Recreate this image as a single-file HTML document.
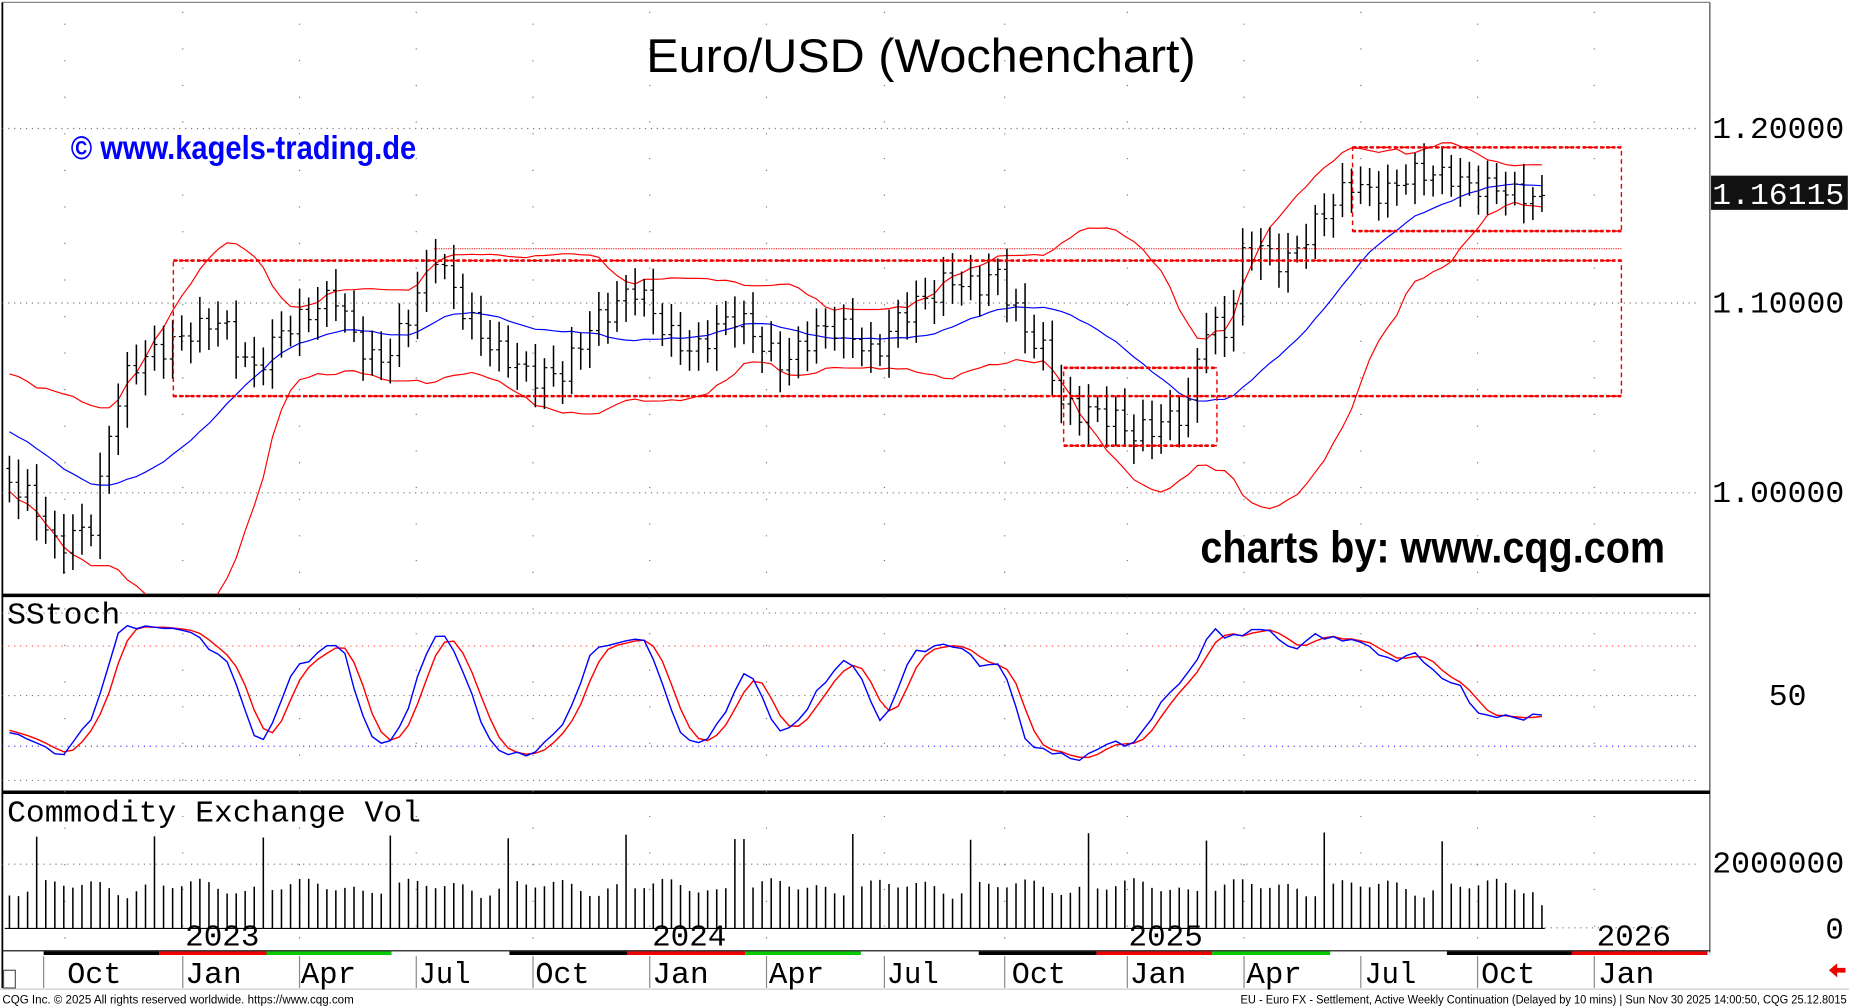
<!DOCTYPE html>
<html><head><meta charset="utf-8">
<style>
html,body{margin:0;padding:0;background:#fff;overflow:hidden}
svg{display:block}
text{font-family:"Liberation Sans",sans-serif}
.m{font-family:"Liberation Mono",monospace}
</style></head>
<body>
<svg id="s" width="1849" height="1008" viewBox="0 0 1568 855" preserveAspectRatio="none" xmlns="http://www.w3.org/2000/svg">
<defs><clipPath id="cp"><rect x="2" y="3" width="1448" height="501"/></clipPath>
<clipPath id="cs"><rect x="2" y="507" width="1448" height="164"/></clipPath></defs>
<rect width="1568" height="855" fill="#fff"/>
<line x1="2" y1="2" x2="1450" y2="2" stroke="#888" stroke-width="1"/>
<line x1="2" y1="2" x2="2" y2="838" stroke="#000" stroke-width="1.5"/>
<line x1="1450" y1="2" x2="1450" y2="808" stroke="#444" stroke-width="1"/>
<line x1="2" y1="505" x2="1450" y2="505" stroke="#000" stroke-width="3"/>
<line x1="2" y1="672" x2="1450" y2="672" stroke="#000" stroke-width="3"/>
<g stroke="#777" stroke-width="1" stroke-dasharray="1,4">
<line x1="2" y1="109" x2="1440" y2="109"/><line x1="2" y1="257" x2="1440" y2="257"/><line x1="2" y1="418" x2="1440" y2="418"/>
<line x1="2" y1="548" x2="1440" y2="548" stroke="#f44"/>
<line x1="2" y1="590" x2="1440" y2="590"/>
<line x1="2" y1="633" x2="1440" y2="633" stroke="#44f"/>
<line x1="2" y1="520" x2="1440" y2="520"/><line x1="2" y1="662" x2="1440" y2="662"/>
<line x1="2" y1="733" x2="1440" y2="733"/><line x1="1310" y1="787" x2="1420" y2="787"/>
</g>
<g stroke="#777" stroke-width="1" stroke-dasharray="1,30">
<line x1="155" y1="10" x2="155" y2="805"/><line x1="353" y1="10" x2="353" y2="805"/><line x1="551" y1="10" x2="551" y2="805"/><line x1="750" y1="10" x2="750" y2="805"/><line x1="956" y1="10" x2="956" y2="805"/><line x1="1154" y1="10" x2="1154" y2="805"/><line x1="1352" y1="10" x2="1352" y2="805"/>
<line x1="254" y1="20" x2="254" y2="805"/><line x1="452" y1="20" x2="452" y2="805"/><line x1="650" y1="20" x2="650" y2="805"/><line x1="852" y1="20" x2="852" y2="805"/><line x1="1055" y1="20" x2="1055" y2="805"/><line x1="1253" y1="20" x2="1253" y2="805"/><line x1="55" y1="20" x2="55" y2="805"/>
</g>
<g id="dyn"></g>
<g fill="none" stroke="#e00" stroke-width="1.2" stroke-dasharray="4,3">
<rect x="147" y="221" width="1228" height="115"/>
<rect x="902" y="312" width="130" height="66"/>
<rect x="1147" y="125" width="228" height="71"/>
</g>
<g stroke="#e00" stroke-width="2.2" stroke-dasharray="3,2">
<line x1="147" y1="221" x2="1375" y2="221"/><line x1="147" y1="336" x2="1375" y2="336"/>
<line x1="902" y1="312" x2="1032" y2="312"/><line x1="902" y1="378" x2="1032" y2="378"/>
<line x1="1147" y1="125" x2="1375" y2="125"/><line x1="1147" y1="196" x2="1375" y2="196"/>
</g>
<line x1="368" y1="211" x2="1375" y2="211" stroke="#e00" stroke-width="0.8" stroke-dasharray="1,1"/>
<text x="781" y="61" font-size="40" text-anchor="middle" textLength="466" lengthAdjust="spacingAndGlyphs">Euro/USD (Wochenchart)</text>
<text x="60" y="135" font-size="28" font-weight="bold" fill="#00f" textLength="293" lengthAdjust="spacingAndGlyphs">© www.kagels-trading.de</text>
<text x="1018" y="477" font-size="38" font-weight="bold" textLength="394" lengthAdjust="spacingAndGlyphs">charts by: www.cqg.com</text>
<text class="m" x="1452" y="117" font-size="26" textLength="112" lengthAdjust="spacingAndGlyphs">1.20000</text>
<text class="m" x="1452" y="265" font-size="26" textLength="112" lengthAdjust="spacingAndGlyphs">1.10000</text>
<text class="m" x="1452" y="426" font-size="26" textLength="112" lengthAdjust="spacingAndGlyphs">1.00000</text>
<rect x="1451" y="149" width="116" height="29" fill="#111"/>
<text class="m" x="1452" y="173" font-size="26" fill="#fff" textLength="112" lengthAdjust="spacingAndGlyphs">1.16115</text>
<text class="m" x="1500" y="598" font-size="26" textLength="32" lengthAdjust="spacingAndGlyphs">50</text>
<text class="m" x="1452" y="740" font-size="26" textLength="112" lengthAdjust="spacingAndGlyphs">2000000</text>
<text class="m" x="1548" y="796" font-size="26">0</text>
<text class="m" x="6" y="529" font-size="26" textLength="96" lengthAdjust="spacingAndGlyphs">SStoch</text>
<text class="m" x="6" y="697" font-size="26" textLength="351" lengthAdjust="spacingAndGlyphs">Commodity Exchange Vol</text>
<text class="m" x="157" y="802" font-size="26" textLength="63" lengthAdjust="spacingAndGlyphs">2023</text>
<text class="m" x="553" y="802" font-size="26" textLength="63" lengthAdjust="spacingAndGlyphs">2024</text>
<text class="m" x="957" y="802" font-size="26" textLength="63" lengthAdjust="spacingAndGlyphs">2025</text>
<text class="m" x="1354" y="802" font-size="26" textLength="63" lengthAdjust="spacingAndGlyphs">2026</text>
<g stroke-width="3">
<line x1="37" y1="808.5" x2="135" y2="808.5" stroke="#000"/>
<line x1="135" y1="808.5" x2="226" y2="808.5" stroke="#e00"/>
<line x1="226" y1="808.5" x2="332" y2="808.5" stroke="#0c0"/>
<line x1="432" y1="808.5" x2="532" y2="808.5" stroke="#000"/>
<line x1="532" y1="808.5" x2="632" y2="808.5" stroke="#e00"/>
<line x1="632" y1="808.5" x2="730" y2="808.5" stroke="#0c0"/>
<line x1="830" y1="808.5" x2="930" y2="808.5" stroke="#000"/>
<line x1="930" y1="808.5" x2="1028" y2="808.5" stroke="#e00"/>
<line x1="1028" y1="808.5" x2="1128" y2="808.5" stroke="#0c0"/>
<line x1="1227" y1="808.5" x2="1333" y2="808.5" stroke="#000"/>
<line x1="1333" y1="808.5" x2="1448" y2="808.5" stroke="#e00"/>
</g>
<line x1="2" y1="806.5" x2="1450" y2="806.5" stroke="#000" stroke-width="1"/>
<g stroke="#888" stroke-width="1">
<line x1="37" y1="811" x2="37" y2="838"/><line x1="155" y1="811" x2="155" y2="838"/><line x1="254" y1="811" x2="254" y2="838"/><line x1="353" y1="811" x2="353" y2="838"/><line x1="452" y1="811" x2="452" y2="838"/><line x1="551" y1="811" x2="551" y2="838"/><line x1="650" y1="811" x2="650" y2="838"/><line x1="750" y1="811" x2="750" y2="838"/><line x1="852" y1="811" x2="852" y2="838"/><line x1="956" y1="811" x2="956" y2="838"/><line x1="1055" y1="811" x2="1055" y2="838"/><line x1="1154" y1="811" x2="1154" y2="838"/><line x1="1253" y1="811" x2="1253" y2="838"/><line x1="1352" y1="811" x2="1352" y2="838"/>
</g>
<line x1="0" y1="839" x2="1568" y2="839" stroke="#ccc" stroke-width="1"/>
<g font-size="26">
<text class="m" x="57" y="834" textLength="46" lengthAdjust="spacingAndGlyphs">Oct</text>
<text class="m" x="157" y="834" textLength="48" lengthAdjust="spacingAndGlyphs">Jan</text>
<text class="m" x="255" y="834" textLength="47" lengthAdjust="spacingAndGlyphs">Apr</text>
<text class="m" x="355" y="834" textLength="44" lengthAdjust="spacingAndGlyphs">Jul</text>
<text class="m" x="454" y="834" textLength="46" lengthAdjust="spacingAndGlyphs">Oct</text>
<text class="m" x="553" y="834" textLength="48" lengthAdjust="spacingAndGlyphs">Jan</text>
<text class="m" x="652" y="834" textLength="47" lengthAdjust="spacingAndGlyphs">Apr</text>
<text class="m" x="752" y="834" textLength="44" lengthAdjust="spacingAndGlyphs">Jul</text>
<text class="m" x="858" y="834" textLength="46" lengthAdjust="spacingAndGlyphs">Oct</text>
<text class="m" x="958" y="834" textLength="48" lengthAdjust="spacingAndGlyphs">Jan</text>
<text class="m" x="1057" y="834" textLength="47" lengthAdjust="spacingAndGlyphs">Apr</text>
<text class="m" x="1157" y="834" textLength="44" lengthAdjust="spacingAndGlyphs">Jul</text>
<text class="m" x="1256" y="834" textLength="46" lengthAdjust="spacingAndGlyphs">Oct</text>
<text class="m" x="1355" y="834" textLength="48" lengthAdjust="spacingAndGlyphs">Jan</text>
</g>
<rect x="3" y="823" width="10" height="15" fill="none" stroke="#555" stroke-width="1"/>
<polygon points="1551,823 1558,817 1558,821 1565,821 1565,825 1558,825 1558,829" fill="#e00"/>
<text x="2" y="851" font-size="10" textLength="298" lengthAdjust="spacingAndGlyphs">CQG Inc. © 2025 All rights reserved worldwide. https://www.cqg.com</text>
<text x="1052" y="851" font-size="10" textLength="514" lengthAdjust="spacingAndGlyphs">EU - Euro FX - Settlement, Active Weekly Continuation (Delayed by 10 mins) | Sun Nov 30 2025 14:00:50, CQG 25.12.8015</text>
</svg>
<script>
(function(){
var K=[[-200,1.075],[-150,1.055],[-100,1.045],[-60,1.02],[-30,1.03],[-10,1.015],[8,1.008],[30,0.99],[45,0.97],[62,0.98],[80,0.99],[95,1.04],[110,1.06],[130,1.07],[160,1.088],[185,1.09],[200,1.072],[215,1.06],[240,1.09],[285,1.10],[300,1.08],[320,1.07],[345,1.09],[368,1.125],[390,1.10],[410,1.085],[430,1.07],[450,1.055],[475,1.062],[500,1.09],[520,1.095],[540,1.105],[560,1.09],[590,1.075],[625,1.09],[650,1.078],[665,1.07],[690,1.08],[720,1.085],[740,1.075],[760,1.09],[790,1.10],[805,1.115],[830,1.113],[845,1.117],[855,1.10],[870,1.08],[888,1.072],[900,1.05],[930,1.04],[960,1.027],[985,1.04],[1010,1.045],[1020,1.085],[1040,1.08],[1055,1.13],[1070,1.135],[1090,1.122],[1110,1.135],[1130,1.155],[1145,1.172],[1175,1.162],[1200,1.17],[1230,1.176],[1245,1.17],[1260,1.165],[1285,1.158],[1308,1.161]];
function ip(x){for(var i=1;i<K.length;i++){if(x<=K[i][0]){var a=K[i-1],b=K[i];return a[1]+(b[1]-a[1])*(x-a[0])/(b[0]-a[0]);}}return K[K.length-1][1];}
var dx=7.69,pre=26,N=170,C=[],H=[],L=[],O=[],X=[];
for(var i=0;i<pre+N;i++){var x=8+(i-pre)*dx;X.push(x);var c=ip(x)+0.006*Math.sin(i*2.3)+0.004*Math.sin(i*5.7);if(x>=1300)c=ip(x);C.push(c);}
for(i=0;i<C.length;i++){var o=i?C[i-1]:C[i];O.push(o);var r1=0.005+0.007*Math.abs(Math.sin(i*1.7)),r2=0.005+0.007*Math.abs(Math.cos(i*1.3));H.push(Math.max(o,C[i])+r1);L.push(Math.min(o,C[i])-r2);}
function py(p){return 418-1690*Math.log(p);}
var s='<g clip-path="url(#cp)">';
var mid=[],up=[],dn=[];
for(i=19;i<C.length;i++){var m=0;for(var j=i-19;j<=i;j++)m+=C[j];m/=20;var v=0;for(j=i-19;j<=i;j++)v+=(C[j]-m)*(C[j]-m);var sd=Math.sqrt(v/20);if(X[i]>=8){mid.push(X[i].toFixed(1)+','+py(m).toFixed(1));up.push(X[i].toFixed(1)+','+py(m+2*sd).toFixed(1));dn.push(X[i].toFixed(1)+','+py(m-2*sd).toFixed(1));}}
s+='<polyline fill="none" stroke="#00f" stroke-width="1" points="'+mid.join(' ')+'"/>';
s+='<polyline fill="none" stroke="#f00" stroke-width="1" points="'+up.join(' ')+'"/>';
s+='<polyline fill="none" stroke="#f00" stroke-width="1" points="'+dn.join(' ')+'"/>';
for(i=pre;i<C.length;i++){var x=X[i];s+='<line x1="'+x+'" y1="'+py(H[i])+'" x2="'+x+'" y2="'+py(L[i])+'" stroke="#000" stroke-width="1.3"/>';s+='<line x1="'+(x-2.5)+'" y1="'+py(O[i])+'" x2="'+x+'" y2="'+py(O[i])+'" stroke="#000" stroke-width="1"/>';s+='<line x1="'+x+'" y1="'+py(C[i])+'" x2="'+(x+2.5)+'" y2="'+py(C[i])+'" stroke="#000" stroke-width="1"/>';}
s+='</g>';
var raw=[];for(i=0;i<C.length;i++){var hh=-1,ll=9;for(j=Math.max(0,i-8);j<=i;j++){hh=Math.max(hh,H[j]);ll=Math.min(ll,L[j]);}raw.push(100*(C[i]-ll)/(hh-ll));}
function sma(a,n){var r=[];for(var i=0;i<a.length;i++){var t=0,c=0;for(var j=Math.max(0,i-n+1);j<=i;j++){t+=a[j];c++;}r.push(t/c);}return r;}
var sk=sma(raw,3),sdd=sma(sk,3),pk=[],pd=[];
function sy(v){return 660-v*1.417;}
for(i=pre;i<C.length;i++){pk.push(X[i].toFixed(1)+','+sy(sk[i]).toFixed(1));pd.push(X[i].toFixed(1)+','+sy(sdd[i]).toFixed(1));}
s+='<g clip-path="url(#cs)"><polyline fill="none" stroke="#f00" stroke-width="1.2" points="'+pd.join(' ')+'"/><polyline fill="none" stroke="#00f" stroke-width="1.2" points="'+pk.join(' ')+'"/></g>';
var spikes=[32,131,222,330,429,528,627,726,826,925,1024,1123,1222];
for(i=pre;i<C.length;i++){var x=X[i],vv=1.1e6+0.35e6*Math.abs(Math.sin(i*2.9))+0.15e6*Math.sin(i*1.1);
for(var k=0;k<spikes.length;k++){if(Math.abs(x-spikes[k])<4)vv=2.9e6+0.3e6*Math.sin(k*3.1);}
if(x>1300)vv=0.75e6;
s+='<line x1="'+x.toFixed(1)+'" y1="788" x2="'+x.toFixed(1)+'" y2="'+(788-vv*27e-6).toFixed(1)+'" stroke="#000" stroke-width="1.3"/>';}
s+='<line x1="4" y1="787.5" x2="1310" y2="787.5" stroke="#000" stroke-width="1"/>';
document.getElementById('dyn').innerHTML=s;
})();
</script>
</body></html>
